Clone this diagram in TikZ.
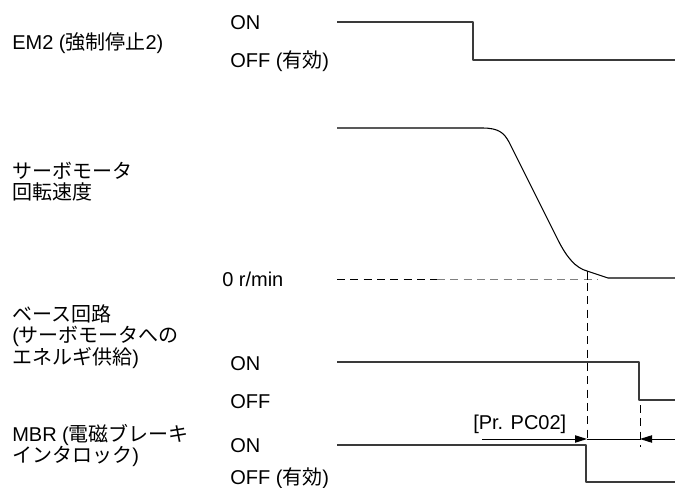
\documentclass[tikz,border=0pt]{standalone}
\usepackage{fontspec}
\setmainfont{Liberation Sans}
\newfontfamily\jpfont{Noto Sans CJK JP}
\newcommand{\jp}[1]{{\jpfont #1}}
\usetikzlibrary{arrows.meta}
\definecolor{sigcol}{HTML}{3A3A3A}
\definecolor{gray}{HTML}{808080}
\tikzset{
  every picture/.style={line join=round},
  sigline/.style={line width=1.1pt, draw=sigcol},
  lbl/.style={anchor=base west, inner sep=0pt, align=left, font=\fontsize{15}{15.75}\selectfont},
  guide/.style={line width=0.75pt, dash pattern=on 6pt off 4pt},
  tip/.style={line width=0.75pt},
}

\begin{document}
\begin{tikzpicture}[x=0.75pt,y=-0.75pt]
\useasboundingbox (0,0) rectangle (675,488);
% left labels
\node[lbl] (em2) at (12,50) {EM2 (\jp{強制停止}2)};
\node[lbl] (spd) at (12,200) {\jp{サーボモータ}\\\jp{回転速度}};
\node[lbl] (base) at (12,365) {\jp{ベース回路}\\(\jp{サーボモータへの}\\\jp{エネルギ供給})};
\node[lbl] (mbr) at (12,462) {MBR (\jp{電磁ブレーキ}\\\jp{インタロック})};
% levels
\node[lbl] (em2on) at (230,30) {ON};
\node[lbl] (em2off) at (230,68) {OFF (\jp{有効})};
\node[lbl] (zero) at (222,287) {0 r/min};
\node[lbl] (baseon) at (230,371) {ON};
\node[lbl] (baseoff) at (230,408) {OFF};
\node[lbl] (mbron) at (230,452) {ON};
\node[lbl] (mbroff) at (230,484) {OFF (\jp{有効})};
% signals
\draw[sigline] (337,22)--(473,22)--(473,60)--(675,60);
\draw[sigline] (337,362)--(639,362)--(639,400)--(675,400);
\draw[sigline] (337,445)--(586,445)--(586,482)--(675,482);
\draw[line width=0.8pt] (337,128)--(482,128) .. controls (499,128) and (504,133) .. (509,142)
  --(558,240) .. controls (567,258) and (576,268) .. (587,271)--(608,278)--(675,278);
% zero speed and timing guides
\draw[guide] (337,280)--(437,280);
\draw[guide,gray] (437,280)--(598,280);
\draw[line width=0.75pt] (587,271)--(587,280);
\draw[guide] (587,283)--(587,439);
\draw[guide] (640,405)--(640,447);
\draw[tip,-{Triangle[length=9pt,width=5.5pt]}] (482,439)--(587,439);
\draw[tip] (587,439)--(640,439);
\draw[tip,{Triangle[length=9pt,width=5.5pt]}-] (640,439)--(675,439);
\node[lbl] (pc02) at (473,430) {[Pr. PC02]};
\end{tikzpicture}
\end{document}
